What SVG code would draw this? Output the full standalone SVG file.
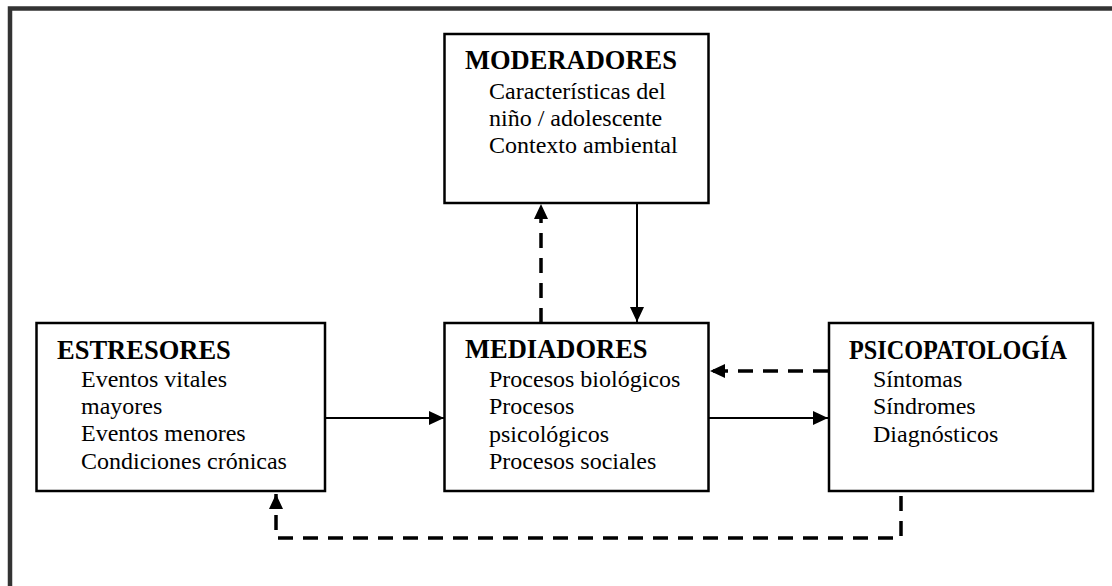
<svg xmlns="http://www.w3.org/2000/svg" width="1112" height="586" viewBox="0 0 1112 586">
<style>
.box{fill:#fff;stroke:#000;stroke-width:2.5}
.t{font-family:"Liberation Serif","Times New Roman",serif;font-weight:bold;font-size:26.5px;fill:#000}
.b{font-family:"Liberation Serif","Times New Roman",serif;font-size:24px;fill:#000}
.solid{fill:none;stroke:#000;stroke-width:2}
.dash{fill:none;stroke:#000;stroke-width:3.5;stroke-dasharray:15 10}
</style>
<defs>
<marker id="ah" viewBox="0 0 15 14" refX="15" refY="7" markerWidth="15" markerHeight="14" markerUnits="userSpaceOnUse" orient="auto">
<path d="M0,0 L15,7 L0,14 z" fill="#000"/>
</marker>
</defs>
<rect width="1112" height="586" fill="#fff"/>
<path d="M10,586 L10,8.5 L1112,8.5" fill="none" stroke="#333" stroke-width="4.5"/>
<g id="moderadores">
<rect class="box" x="444.5" y="34" width="264" height="169"/>
<text class="t" x="465" y="69">MODERADORES</text>
<text class="b" x="489" y="99">Características del</text>
<text class="b" x="489" y="126">niño / adolescente</text>
<text class="b" x="489" y="153">Contexto ambiental</text>
</g>
<g id="estresores">
<rect class="box" x="36.5" y="323" width="288.5" height="168"/>
<text class="t" x="57" y="359">ESTRESORES</text>
<text class="b" x="81" y="387">Eventos vitales</text>
<text class="b" x="81" y="414">mayores</text>
<text class="b" x="81" y="441">Eventos menores</text>
<text class="b" x="81" y="469">Condiciones crónicas</text>
</g>
<g id="mediadores">
<rect class="box" x="444.5" y="323" width="264" height="168"/>
<text class="t" x="465" y="358">MEDIADORES</text>
<text class="b" x="489" y="387">Procesos biológicos</text>
<text class="b" x="489" y="414">Procesos</text>
<text class="b" x="489" y="442">psicológicos</text>
<text class="b" x="489" y="469">Procesos sociales</text>
</g>
<g id="psicopatologia">
<rect class="box" x="829" y="323" width="264" height="168"/>
<text class="t" x="849" y="359" textLength="218" lengthAdjust="spacingAndGlyphs">PSICOPATOLOGÍA</text>
<text class="b" x="873" y="387">Síntomas</text>
<text class="b" x="873" y="414">Síndromes</text>
<text class="b" x="873" y="442">Diagnósticos</text>
</g>
<g id="connectors">
<line class="solid" x1="325" y1="418" x2="444" y2="418" marker-end="url(#ah)"/>
<line class="solid" x1="709" y1="418" x2="828" y2="418" marker-end="url(#ah)"/>
<line class="solid" x1="637" y1="203" x2="637" y2="322" marker-end="url(#ah)"/>
<line class="dash" x1="541" y1="323" x2="541" y2="204" stroke-dasharray="17 12" marker-end="url(#ah)"/>
<line class="dash" x1="828" y1="371" x2="710" y2="371" marker-end="url(#ah)"/>
<path class="dash" d="M901,496 L901,538 L276,538 L276,494" marker-end="url(#ah)"/>
</g>
</svg>
